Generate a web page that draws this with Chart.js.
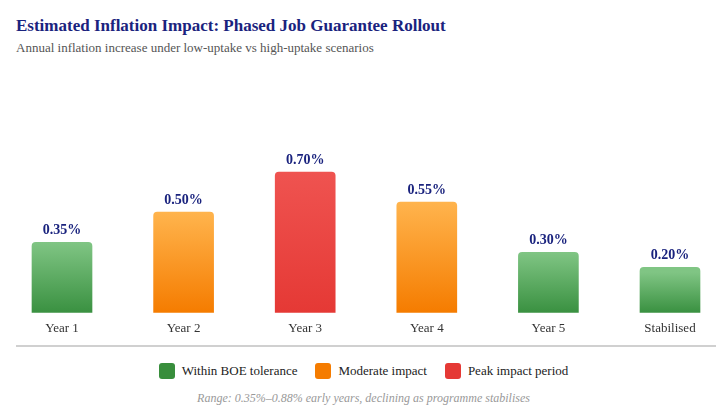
<!DOCTYPE html>
<html>
<head>
<meta charset="utf-8">
<script src="https://cdn.jsdelivr.net/npm/chart.js@4.4.1/dist/chart.umd.min.js"></script>
<style>
  html, body { margin: 0; padding: 0; background: #fff; }
  body { width: 727px; height: 417px; position: relative; overflow: hidden; font-family: "Liberation Serif", "DejaVu Serif", serif; }
  #title { position: absolute; left: 16px; top: 16px; font-size: 17px; font-weight: bold; color: #1a237e; white-space: nowrap; }
  #subtitle { position: absolute; left: 16px; top: 40px; font-size: 13px; color: #555; white-space: nowrap; }
  #wrap { position: absolute; left: 0; top: 60px; width: 727px; height: 285px; }
  #rule { position: absolute; left: 16px; top: 345px; width: 700px; height: 2px; background: #d0d0d0; }
  #legend { position: absolute; left: 0; top: 362px; width: 727px; text-align: center; font-size: 13px; color: #222; }
  #legend span.item { display: inline-block; margin: 0 9px; vertical-align: middle; }
  #legend span.box { display: inline-block; width: 16px; height: 16px; border-radius: 3px; vertical-align: middle; margin-right: 7px; position: relative; top: -1px; }
  #note { position: absolute; left: 0; top: 391px; width: 727px; text-align: center; font-size: 12px; font-style: italic; color: #999; }
</style>
</head>
<body>
<div id="title">Estimated Inflation Impact: Phased Job Guarantee Rollout</div>
<div id="subtitle">Annual inflation increase under low-uptake vs high-uptake scenarios</div>
<div id="wrap"><canvas id="c"></canvas></div>
<div id="rule"></div>
<div id="legend"></div>
<div id="note">Range: 0.35%–0.88% early years, declining as programme stabilises</div>
<script>
// data
var periods = ["Year 1", "Year 2", "Year 3", "Year 4", "Year 5", "Stabilised"];
var inflationRise = [0.35, 0.50, 0.70, 0.55, 0.30, 0.20];
var impactLevel = ["low", "mid", "peak", "mid", "low", "low"];
var levelNames = ["Within BOE tolerance", "Moderate impact", "Peak impact period"];
var levelKeys = ["low", "mid", "peak"];

var shades = {
  low:  { top: "#80c584", bottom: "#3a9141", solid: "#388e3c" },
  mid:  { top: "#ffb44d", bottom: "#f57c00", solid: "#f57c00" },
  peak: { top: "#ef5350", bottom: "#e53935", solid: "#e53935" }
};
var serif = "'Liberation Serif', 'DejaVu Serif', serif";

// legend
var lg = document.getElementById("legend");
levelKeys.forEach(function (k, i) {
  var it = document.createElement("span");
  it.className = "item";
  it.innerHTML = '<span class="box" style="background:' + shades[k].solid + '"></span>' + levelNames[i];
  lg.appendChild(it);
});

function barFill(ctx) {
  var chart = ctx.chart, area = chart.chartArea;
  if (!area) return shades[impactLevel[ctx.dataIndex]].solid;
  var y = chart.scales.y;
  var k = impactLevel[ctx.dataIndex];
  var top = y.getPixelForValue(inflationRise[ctx.dataIndex]);
  var g = chart.ctx.createLinearGradient(0, top, 0, y.getPixelForValue(0));
  g.addColorStop(0, shades[k].top);
  g.addColorStop(1, shades[k].bottom);
  return g;
}

var valueLabels = {
  id: "valueLabels",
  afterDatasetsDraw: function (chart) {
    var c = chart.ctx;
    var meta = chart.getDatasetMeta(0);
    c.save();
    c.font = "bold 14px " + serif;
    c.fillStyle = "#1a237e";
    c.textAlign = "center";
    c.textBaseline = "alphabetic";
    meta.data.forEach(function (bar, i) {
      c.fillText(inflationRise[i].toFixed(2) + "%", bar.x, bar.y - 8.5);
    });
    c.restore();
  }
};

new Chart(document.getElementById("c"), {
  type: "bar",
  data: {
    labels: periods,
    datasets: [{
      data: inflationRise,
      backgroundColor: barFill,
      borderRadius: 4,
      borderSkipped: "start",
      barThickness: 60,
      minBarLength: 45,
      clip: false
    }]
  },
  options: {
    responsive: true,
    maintainAspectRatio: false,
    animation: false,
    layout: { padding: { left: 62, right: 57, top: 92, bottom: 1 } },
    plugins: { legend: { display: false }, tooltip: { enabled: false } },
    scales: {
      x: {
        offset: false,
        grid: { display: false, drawTicks: false },
        border: { display: false },
        ticks: { padding: 8, color: "#333", font: { family: serif, size: 13 } }
      },
      y: { display: false, min: 0, max: 0.8 }
    }
  },
  plugins: [valueLabels]
});
</script>
</body>
</html>
